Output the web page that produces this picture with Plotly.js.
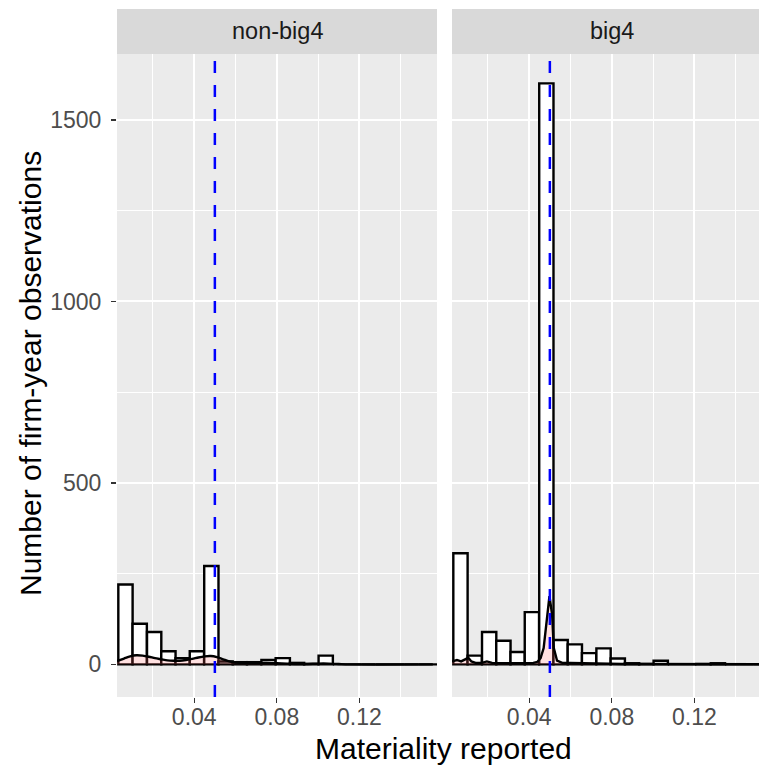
<!DOCTYPE html>
<html>
<head>
<meta charset="utf-8">
<script src="https://cdn.plot.ly/plotly-3.0.1.min.js"></script>
<style>html,body{margin:0;padding:0;background:#fff;}#chart{width:759px;height:766px;}</style>
</head>
<body>
<div id="chart"></div>
<script>
// ---------- data ----------
const panels = ["non-big4", "big4"];
const binCenters = [0.0067, 0.0136, 0.0206, 0.0275, 0.0344, 0.0413, 0.0483, 0.0552, 0.0621, 0.0690,
                    0.0760, 0.0829, 0.0898, 0.0967, 0.1037, 0.1106, 0.1175, 0.1244, 0.1314, 0.1383,
                    0.1452, 0.1521];
const binWidth = 0.00692;
const countsNonBig4 = [220, 112, 89, 36, 17, 36, 271, 8, 6, 6, 12, 17, 4, 1, 24, 0, 0, 0, 0, 0, 0, 0];
const countsBig4    = [306, 24, 89, 65, 34, 144, 1601, 67, 55, 31, 44, 16, 3, 1, 10, 0, 0, 1, 3, 0, 0, 0];

const densXNonBig4 = [0.0026, 0.006, 0.009, 0.012, 0.015, 0.018, 0.021, 0.024, 0.027, 0.030, 0.033, 0.036,
                      0.039, 0.042, 0.045, 0.048, 0.051, 0.054, 0.057, 0.060, 0.065, 0.070, 0.075, 0.080,
                      0.085, 0.090, 0.095, 0.100, 0.105, 0.110, 0.115, 0.1576];
const densYNonBig4 = [9, 16, 22, 25, 24, 21, 17, 14, 11, 10, 10, 12,
                      15, 19, 22, 23, 20, 14, 8, 5, 4, 4, 4, 3,
                      2, 1, 1, 2, 2, 1, 0, 0];
const densXBig4 = [0.0026, 0.005, 0.007, 0.009, 0.0105, 0.012, 0.014, 0.017, 0.0195, 0.022, 0.026, 0.030,
                   0.034, 0.038, 0.042, 0.044, 0.0455, 0.047, 0.0487, 0.0498, 0.0511, 0.0519, 0.0535, 0.056,
                   0.060, 0.065, 0.070, 0.075, 0.080, 0.085, 0.090, 0.100, 0.105, 0.110, 0.1576];
const densYBig4 = [8, 12, 8, 14, 18, 8, 4, 4, 8, 4, 3, 3,
                   3, 3, 4, 7, 17, 45, 137, 188, 137, 45, 10, 4,
                   4, 3, 3, 3, 2, 1, 1, 1, 1, 0, 0];

const threshold = 0.05;
const xTicks = [0.04, 0.08, 0.12];
const xTickLabels = ["0.04", "0.08", "0.12"];
const xMinorTicks = [0.02, 0.06, 0.10, 0.14];
const yTicks = [0, 500, 1000, 1500];
const yTickLabels = ["0", "500", "1000", "1500"];
const yMinorTicks = [250, 750, 1250];
const xTitle = "Materiality reported";
const yTitle = "Number of firm-year observations";

// ---------- figure ----------
const W = 759, H = 766;
const FONT = "Liberation Sans, Arial, Helvetica, sans-serif";
const panelTop = 54, panelBottom = 697;
const leftPx = [117, 437], rightPx = [452, 759];
const pxPerUnit = 320 / (0.1576 - 0.0026);
const xRangeL = [0.0026, 0.1576];
const xRangeR = [0.0026, 0.0026 + (rightPx[1] - rightPx[0]) / pxPerUnit];
const yRange = [-90, 1682];

function px2x(p) { return p / W; }
function px2y(p) { return (H - p) / H; }

function barTrace(y, xa, ya) {
  return {type: "bar", x: binCenters, y: y, width: binWidth, xaxis: xa, yaxis: ya,
          marker: {color: "#FFFFFF", line: {color: "#000000", width: 2.4}},
          hoverinfo: "skip", showlegend: false};
}
function densTrace(x, y, xa, ya, shape) {
  return {type: "scatter", mode: "lines", x: x, y: y, xaxis: xa, yaxis: ya,
          line: {color: "#000000", width: 2.4, shape: shape, smoothing: 0.8},
          fill: "tozeroy", fillcolor: "rgba(255,102,102,0.2)",
          hoverinfo: "skip", showlegend: false};
}

const traces = [
  barTrace(countsNonBig4, "x", "y"),
  densTrace(densXNonBig4, densYNonBig4, "x", "y", "spline"),
  barTrace(countsBig4, "x2", "y2"),
  densTrace(densXBig4, densYBig4, "x2", "y2", "linear")
];

const gridMinor = {showgrid: true, gridcolor: "#FFFFFF", gridwidth: 1};
function xAxis(domain, range) {
  return {domain: domain, range: range, showgrid: true, gridcolor: "#FFFFFF", gridwidth: 2,
          zeroline: false, showline: false, tickmode: "array", tickvals: xTicks, ticktext: xTickLabels,
          ticks: "outside", ticklen: 5, tickwidth: 1.3, tickcolor: "#333333",
          ticklabelstandoff: -6,
          tickfont: {family: FONT, size: 23, color: "#4D4D4D"},
          minor: Object.assign({tickmode: "array", tickvals: xMinorTicks, ticks: ""}, gridMinor),
          fixedrange: true, automargin: false};
}
function yAxis(anchor, labels) {
  return {domain: [px2y(panelBottom), px2y(panelTop)], range: yRange, anchor: anchor,
          showgrid: true, gridcolor: "#FFFFFF", gridwidth: 2, zeroline: false, showline: false,
          tickmode: "array", tickvals: yTicks, ticktext: yTickLabels,
          ticks: labels ? "outside" : "", ticklen: 5, tickwidth: 1.3, tickcolor: "#333333",
          showticklabels: labels, ticklabelstandoff: 5,
          tickfont: {family: FONT, size: 23, color: "#4D4D4D"},
          minor: Object.assign({tickmode: "array", tickvals: yMinorTicks, ticks: ""}, gridMinor),
          fixedrange: true, automargin: false};
}

const stripY0 = px2y(panelTop), stripY1 = px2y(9);
const dashLine = {color: "#0000FF", width: 2.5, dash: "12px,12px"};
const shapes = [
  {type: "rect", xref: "paper", yref: "paper", x0: px2x(leftPx[0]), x1: px2x(leftPx[1]), y0: stripY0, y1: stripY1,
   fillcolor: "#D9D9D9", line: {width: 0}, layer: "below"},
  {type: "rect", xref: "paper", yref: "paper", x0: px2x(rightPx[0]), x1: 1, y0: stripY0, y1: stripY1,
   fillcolor: "#D9D9D9", line: {width: 0}, layer: "below"},
  {type: "line", xref: "x", yref: "y domain", x0: threshold, x1: threshold, y0: 0, y1: 1,
   line: dashLine, layer: "above"},
  {type: "line", xref: "x2", yref: "y2 domain", x0: threshold, x1: threshold, y0: 0, y1: 1,
   line: dashLine, layer: "above"}
];

const annotations = [
  {text: panels[0], xref: "paper", yref: "paper", x: px2x((leftPx[0] + leftPx[1]) / 2), y: px2y(31.5),
   showarrow: false, xanchor: "center", yanchor: "middle", font: {family: FONT, size: 23.5, color: "#1A1A1A"}},
  {text: panels[1], xref: "paper", yref: "paper", x: px2x(612), y: px2y(31.5),
   showarrow: false, xanchor: "center", yanchor: "middle", font: {family: FONT, size: 23.5, color: "#1A1A1A"}},
  {text: xTitle, xref: "paper", yref: "paper", x: px2x(444), y: px2y(748),
   showarrow: false, xanchor: "center", yanchor: "middle", font: {family: FONT, size: 30, color: "#000000"}},
  {text: yTitle, xref: "paper", yref: "paper", x: px2x(30), y: px2y(374), textangle: -90,
   showarrow: false, xanchor: "center", yanchor: "middle", font: {family: FONT, size: 30, color: "#000000"}}
];

const layout = {
  width: W, height: H, margin: {l: 0, r: 0, t: 0, b: 0, pad: 0},
  paper_bgcolor: "#FFFFFF", plot_bgcolor: "#EBEBEB",
  barmode: "overlay", bargap: 0,
  xaxis: Object.assign(xAxis([px2x(leftPx[0]), px2x(leftPx[1])], xRangeL), {anchor: "y"}),
  xaxis2: Object.assign(xAxis([px2x(rightPx[0]), 1], xRangeR), {anchor: "y2"}),
  yaxis: yAxis("x", true),
  yaxis2: yAxis("x2", false),
  shapes: shapes, annotations: annotations, showlegend: false
};

Plotly.newPlot("chart", traces, layout, {staticPlot: true, displayModeBar: false});
</script>
</body>
</html>
